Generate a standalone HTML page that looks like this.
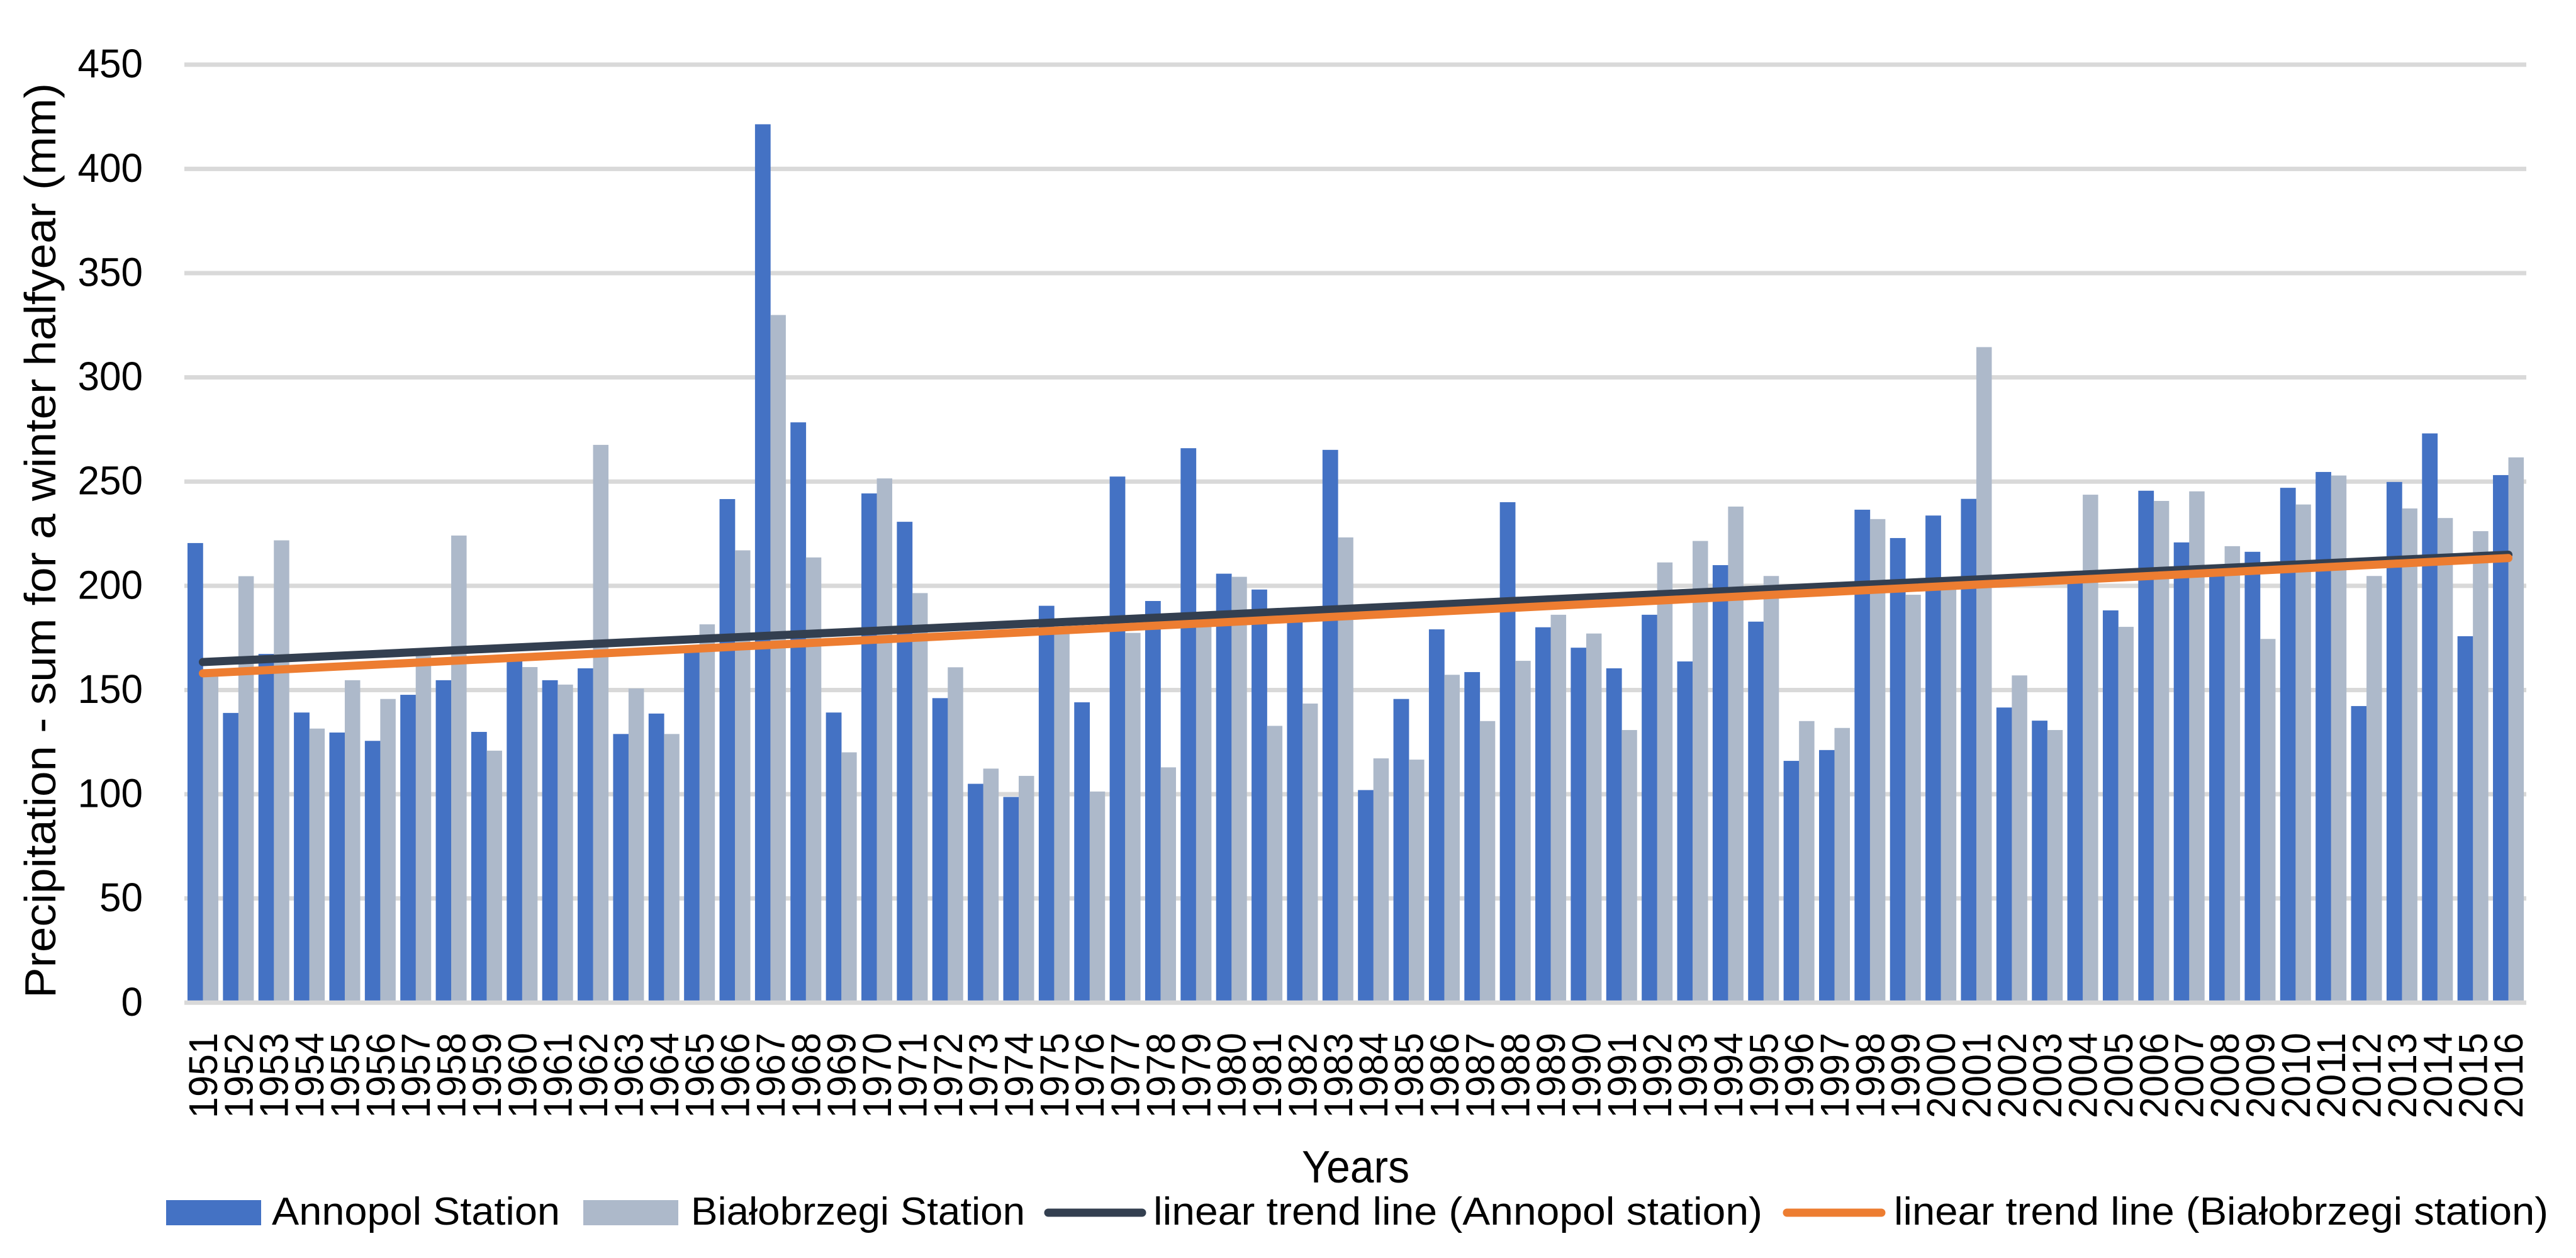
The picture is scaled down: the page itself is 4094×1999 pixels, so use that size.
<!DOCTYPE html>
<html lang="en">
<head>
<meta charset="utf-8">
<title>Precipitation chart</title>
<style>
html,body{margin:0;padding:0;background:#fff;}
svg{display:block;}
text{font-family:"Liberation Sans",sans-serif;fill:#000;}
</style>
</head>
<body>
<svg id="chart" xmlns="http://www.w3.org/2000/svg" width="4094" height="1999" viewBox="0 0 4094 1999">
  <rect x="0" y="0" width="4094" height="1999" fill="#ffffff"/>
  <g id="grid"></g>
  <g id="bars"></g>
  <g id="axis"></g>
  <g id="trends"></g>
  <g id="yticks"></g>
  <g id="xticks"></g>
  <text transform="translate(88,1586) rotate(-90)" font-size="70" textLength="1454" lengthAdjust="spacingAndGlyphs">Precipitation - sum for a winter halfyear (mm)</text>
  <text x="2069" y="1879" font-size="72" textLength="171" lengthAdjust="spacingAndGlyphs">Years</text>
  <g>
    <g>
      <rect x="264" y="1907" width="151" height="40" fill="#4472c4"/>
      <text x="432" y="1946" font-size="62" textLength="458" lengthAdjust="spacingAndGlyphs">Annopol Station</text>
    </g>
    <g>
      <rect x="927" y="1907" width="151" height="40" fill="#adb9ca"/>
      <text x="1098" y="1946" font-size="62" textLength="531" lengthAdjust="spacingAndGlyphs">Białobrzegi Station</text>
    </g>
    <g>
      <line x1="1666" y1="1927" x2="1815" y2="1927" stroke="#333f50" stroke-width="13" stroke-linecap="round"/>
      <text x="1833" y="1946" font-size="62" textLength="968" lengthAdjust="spacingAndGlyphs">linear trend line (Annopol station)</text>
    </g>
    <g>
      <line x1="2840" y1="1927" x2="2990" y2="1927" stroke="#ed7d31" stroke-width="13" stroke-linecap="round"/>
      <text x="3010" y="1946" font-size="62" textLength="1040" lengthAdjust="spacingAndGlyphs">linear trend line (Białobrzegi station)</text>
    </g>
  </g>
</svg>
<script>
const years = ["1951","1952","1953","1954","1955","1956","1957","1958","1959","1960","1961","1962","1963","1964","1965","1966","1967","1968","1969","1970","1971","1972","1973","1974","1975","1976","1977","1978","1979","1980","1981","1982","1983","1984","1985","1986","1987","1988","1989","1990","1991","1992","1993","1994","1995","1996","1997","1998","1999","2000","2001","2002","2003","2004","2005","2006","2007","2008","2009","2010","2011","2012","2013","2014","2015","2016"];
const annopol = [220.5,139,167.3,139.2,129.6,125.6,147.7,154.7,129.9,163.8,154.7,160.4,128.9,138.7,170,241.6,421.4,278.4,139.2,244.3,230.7,146.1,105,98.7,190.4,144.1,252.4,192.7,266,205.8,198.2,184,265.2,102,145.7,179.1,158.6,240.1,180.1,170.3,160.4,186.1,163.7,209.9,182.8,116,121.2,236.5,222.9,233.7,241.7,141.6,135.3,203,188.2,245.6,220.8,207,216.3,247,254.6,142.3,249.8,273.1,175.8,253.1];
const bialobrzegi = [160,204.6,221.8,131.5,154.7,145.7,166.4,224.1,120.9,161,152.6,267.6,150.7,128.9,181.5,217,329.9,213.6,120.1,251.5,196.5,160.9,112.3,108.8,178,101.3,177.4,112.9,182,204.3,132.8,143.5,223.2,117.2,116.6,157.3,135.1,164,186.1,177.1,130.8,211.2,221.5,238,204.7,135.1,131.8,232,195.7,199,314.5,157,130.8,243.7,180.3,240.7,245.3,219,174.5,239,252.9,204.7,237.1,232.5,226.2,261.6];
const trendYears = ["1951","2016"];
const trendAnnopol = [163.4,214.9];
const trendBialobrzegi = [158,213.3];
const yTicks = [0,50,100,150,200,250,300,350,400,450];

const NS = "http://www.w3.org/2000/svg";
const gridLeft = 293, gridRight = 4015, bandLeft = 294.3, band = 56.37, yZero = 1593.3, pxPerUnit = 3.3124;
const barW = 24.5;
const pad = (band - 2 * barW) / 2;
function yScale(v) { return yZero - v * pxPerUnit; }
function xBand(i) { return bandLeft + i * band; }
function xCenter(year) { return xBand(years.indexOf(year)) + band / 2; }
function make(tag, attrs, parent) {
  const el = document.createElementNS(NS, tag);
  for (const k in attrs) el.setAttribute(k, attrs[k]);
  parent.appendChild(el);
  return el;
}

const grid = document.getElementById("grid");
const yt = document.getElementById("yticks");
yTicks.forEach(function (t) {
  if (t !== 0) {
    const g = make("line", {x1: gridLeft, x2: gridRight, y1: yScale(t), y2: yScale(t), stroke: "#d9d9d9", "stroke-width": 7}, grid);
    
    
  }
  const s = String(t);
  const l = make("text", {x: 227 - s.length * 34.5, y: yScale(t) + 20.5, "font-size": 64, textLength: s.length * 34.5, lengthAdjust: "spacingAndGlyphs"}, yt);
  l.textContent = s;
  
  
});

const bars = document.getElementById("bars");
const xt = document.getElementById("xticks");
years.forEach(function (yr, i) {
  const x0 = xBand(i) + pad;
  const a = make("rect", {x: x0, y: yScale(annopol[i]), width: barW + 0.3, height: yZero - yScale(annopol[i]), fill: "#4472c4"}, bars);
  
  
  const b = make("rect", {x: x0 + barW, y: yScale(bialobrzegi[i]), width: barW, height: yZero - yScale(bialobrzegi[i]), fill: "#adb9ca"}, bars);
  
  
  const cx = xCenter(yr);
  const t = make("text", {transform: "translate(" + (cx + 22.5) + ",1777) rotate(-90)", "font-size": 64, textLength: 136, lengthAdjust: "spacingAndGlyphs"}, xt);
  t.textContent = yr;
  
  
});

const axisLine = make("line", {x1: gridLeft, x2: gridRight, y1: yScale(0), y2: yScale(0), stroke: "#d9d9d9", "stroke-width": 7}, document.getElementById("axis"));



const trends = document.getElementById("trends");
const lineA = make("line", {x1: xCenter(trendYears[0]), y1: yScale(trendAnnopol[0]), x2: xCenter(trendYears[1]), y2: yScale(trendAnnopol[1]), stroke: "#333f50", "stroke-width": 13, "stroke-linecap": "round"}, trends);


const lineB = make("line", {x1: xCenter(trendYears[0]), y1: yScale(trendBialobrzegi[0]), x2: xCenter(trendYears[1]), y2: yScale(trendBialobrzegi[1]), stroke: "#ed7d31", "stroke-width": 13, "stroke-linecap": "round"}, trends);


</script>
</body>
</html>
